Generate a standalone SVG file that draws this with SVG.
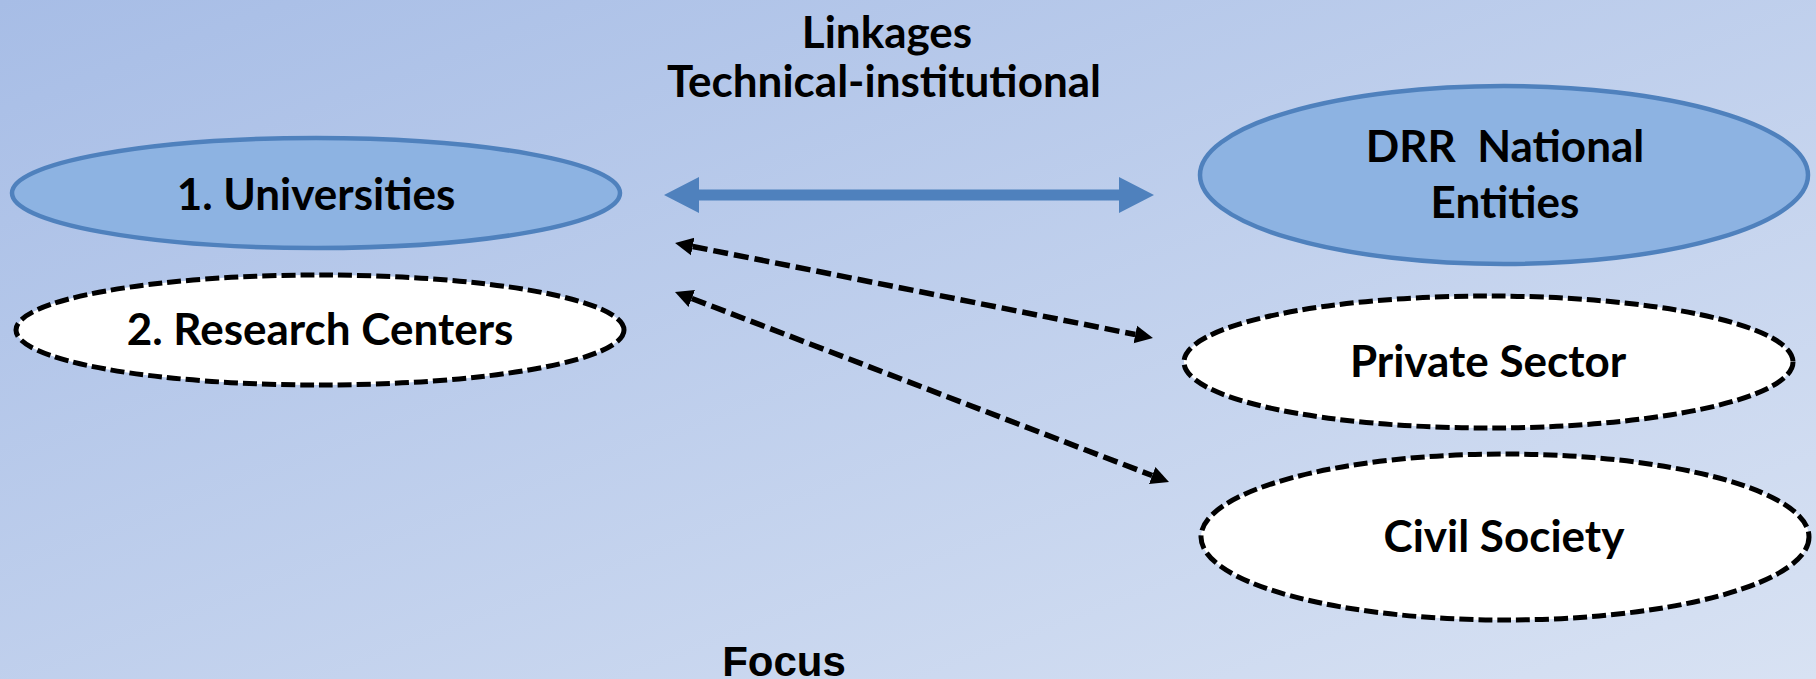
<svg xmlns="http://www.w3.org/2000/svg" width="1816" height="679" viewBox="0 0 1816 679">
<defs>
<linearGradient id="bg" x1="0" y1="0" x2="1" y2="1">
<stop offset="0" stop-color="#a7bde6"/>
<stop offset="1" stop-color="#d8e2f3"/>
</linearGradient>
<marker id="ah" markerUnits="userSpaceOnUse" markerWidth="22" markerHeight="22" viewBox="0 -11 22 22" refX="0" refY="0" orient="auto-start-reverse">
<path d="M0,-9 L18,0 L0,9 Z" fill="#000"/>
</marker>
<style>
.lbl{font-family:Lato,"Liberation Sans",sans-serif;font-weight:bold;font-size:44px;fill:#000;text-anchor:middle}
.solid{fill:#8db3e2;stroke:#4f81bd;stroke-width:4.5}
.dash{fill:#fff;stroke:#000;stroke-width:5;stroke-dasharray:14 5}
.dl{stroke:#000;stroke-width:5.5;stroke-dasharray:15 6;fill:none;marker-start:url(#ah);marker-end:url(#ah)}
</style>
</defs>
<rect x="0" y="0" width="1816" height="679" fill="url(#bg)"/>
<g id="title">
<text class="lbl" x="887" y="48">Linkages</text>
<text class="lbl" x="884" y="97">Technical-institutional</text>
</g>
<g id="universities">
<ellipse class="solid" cx="316" cy="193" rx="304" ry="55"/>
<text class="lbl" x="316" y="210">1. Universities</text>
</g>
<g id="research">
<ellipse class="dash" cx="320" cy="330" rx="304" ry="55"/>
<text class="lbl" x="320" y="345">2. Research Centers</text>
</g>
<g id="drr">
<ellipse class="solid" cx="1504" cy="175" rx="304" ry="89"/>
<text class="lbl" x="1505" y="162" xml:space="preserve">DRR  National</text>
<text class="lbl" x="1505" y="218">Entities</text>
</g>
<g id="private">
<ellipse class="dash" cx="1488.5" cy="362" rx="304.5" ry="66"/>
<text class="lbl" x="1488" y="377">Private Sector</text>
</g>
<g id="civil">
<ellipse class="dash" cx="1505" cy="537" rx="304" ry="83"/>
<text class="lbl" x="1504" y="552">Civil Society</text>
</g>
<g id="connectors">
<polygon fill="#4f81bd" points="664,195 699,177 699,189.5 1119,189.5 1119,177 1154,195 1119,213 1119,200.5 699,200.5 699,213"/>
<line class="dl" x1="692.7" y1="246.5" x2="1135.3" y2="334.5"/>
<line class="dl" x1="691.8" y1="298.5" x2="1152.2" y2="475.5"/>
</g>
<g id="focus">
<text x="784" y="676" font-family="'Liberation Sans',Arial,sans-serif" font-weight="bold" font-size="42" text-anchor="middle" fill="#000">Focus</text>
</g>
</svg>
